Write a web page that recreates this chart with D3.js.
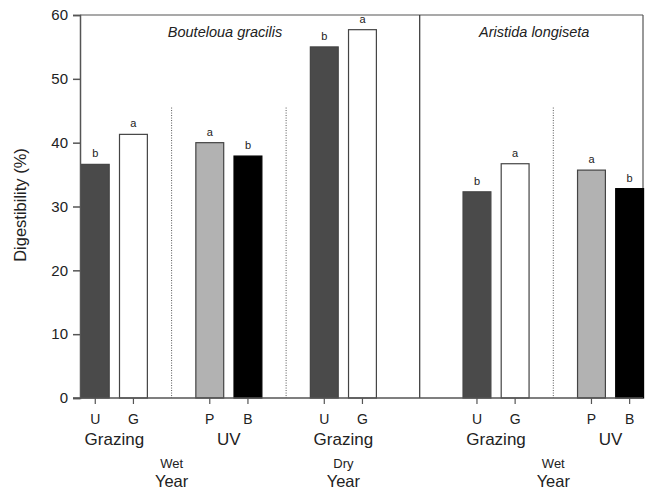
<!DOCTYPE html>
<html><head><meta charset="utf-8">
<script src="https://cdn.jsdelivr.net/npm/d3@7"></script>
<style>body{margin:0;background:#fff}svg{display:block}text{font-family:"Liberation Sans",Arial,sans-serif}</style>
</head><body><svg id="c" width="650" height="492"></svg>
<script>
const treatments = ["U","G","P","B","U","G","U","G","P","B"];
const slots      = [0,1,3,4,6,7,10,11,13,14];
const values     = [36.6,41.3,40.0,37.9,55.0,57.7,32.3,36.7,35.7,32.8];
const letters    = ["b","a","a","b","b","a","b","a","a","b"];
const fills      = ["#4a4a4a","#ffffff","#b2b2b2","#000000","#4a4a4a","#ffffff","#4a4a4a","#ffffff","#b2b2b2","#000000"];
const factorLabels = [{t:"Grazing",s:0.5},{t:"UV",s:3.5},{t:"Grazing",s:6.5},{t:"Grazing",s:10.5},{t:"UV",s:13.5}];
const yearLabels   = [{t:"Wet",s:2},{t:"Dry",s:6.5},{t:"Wet",s:12}];
const dottedSlots  = [2,5,12];
const speciesLabels = [{t:"Bouteloua gracilis",s:3.4},{t:"Aristida longiseta",s:11.5}];
const yTicks = [0,10,20,30,40,50,60];

const svg = d3.select("#c");
const x = d3.scaleLinear().domain([-0.4,14.35]).range([80,643]);
const y = d3.scaleLinear().domain([0,60]).range([398,15]);
const bw = x(0.73)-x(0);

// frame top and right
svg.append("line").attr("x1",80).attr("x2",643).attr("y1",y(60)).attr("y2",y(60)).attr("stroke","#555").attr("stroke-width",1.2);
svg.append("line").attr("x1",643).attr("x2",643).attr("y1",y(60)).attr("y2",y(0)).attr("stroke","#555").attr("stroke-width",1.2);
// separator
svg.append("line").attr("x1",x(8.5)).attr("x2",x(8.5)).attr("y1",y(60)).attr("y2",y(0)).attr("stroke","#333").attr("stroke-width",1.2);
// dotted lines
svg.selectAll(".dot").data(dottedSlots).enter().append("line")
  .attr("x1",d=>x(d)).attr("x2",d=>x(d)).attr("y1",y(45.5)).attr("y2",y(0))
  .attr("stroke","#555").attr("stroke-width",1).attr("stroke-dasharray","1,1.5");

// bars
const data = values.map((v,i)=>({v,s:slots[i],f:fills[i],l:letters[i],t:treatments[i]}));
svg.selectAll(".bar").data(data).enter().append("rect")
  .attr("x",d=>x(d.s)-bw/2).attr("width",bw)
  .attr("y",d=>y(d.v)).attr("height",d=>y(0)-y(d.v))
  .attr("fill",d=>d.f).attr("stroke",d=>d.f==="#000000"?"#000":"#444").attr("stroke-width",1.2);
svg.selectAll(".lt").data(data).enter().append("text")
  .attr("x",d=>x(d.s)).attr("y",d=>y(d.v)-7).attr("text-anchor","middle")
  .attr("font-size",11).attr("fill","#222").text(d=>d.l);

// y axis
const ya = svg.append("g").attr("transform","translate(80,0)").call(d3.axisLeft(y).tickValues(yTicks).tickSize(7).tickPadding(5));
ya.select(".domain").attr("stroke","#555").attr("stroke-width",1.5);
ya.selectAll(".tick line").attr("stroke","#555").attr("stroke-width",1.5);
ya.selectAll("text").attr("font-size",15).attr("fill","#222").attr("font-family","Liberation Sans, Arial, sans-serif");

// x axis
svg.append("line").attr("x1",73).attr("x2",643).attr("y1",y(0)).attr("y2",y(0)).attr("stroke","#555").attr("stroke-width",1.5);
svg.selectAll(".xt").data(data).enter().append("line")
  .attr("x1",d=>x(d.s)).attr("x2",d=>x(d.s)).attr("y1",y(0)).attr("y2",y(0)+6).attr("stroke","#555").attr("stroke-width",1.2);
svg.selectAll(".xl").data(data).enter().append("text")
  .attr("x",d=>x(d.s)).attr("y",424).attr("text-anchor","middle").attr("font-size",14).attr("fill","#222").text(d=>d.t);
svg.selectAll(".fl").data(factorLabels).enter().append("text")
  .attr("x",d=>x(d.s)).attr("y",445).attr("text-anchor","middle").attr("font-size",17).attr("fill","#222").text(d=>d.t);
svg.selectAll(".yl").data(yearLabels).enter().append("text")
  .attr("x",d=>x(d.s)).attr("y",468).attr("text-anchor","middle").attr("font-size",13).attr("fill","#222").text(d=>d.t);
svg.selectAll(".yy").data(yearLabels).enter().append("text")
  .attr("x",d=>x(d.s)).attr("y",487).attr("text-anchor","middle").attr("font-size",16.5).attr("fill","#222").text("Year");

// species
svg.selectAll(".sp").data(speciesLabels).enter().append("text")
  .attr("x",d=>x(d.s)).attr("y",37).attr("text-anchor","middle").attr("font-size",14.5).attr("font-style","italic").attr("fill","#222").text(d=>d.t);

// y label
svg.append("text").attr("transform","translate(26,205) rotate(-90)").attr("text-anchor","middle")
  .attr("font-size",16.5).attr("fill","#222").text("Digestibility (%)");
</script></body></html>
